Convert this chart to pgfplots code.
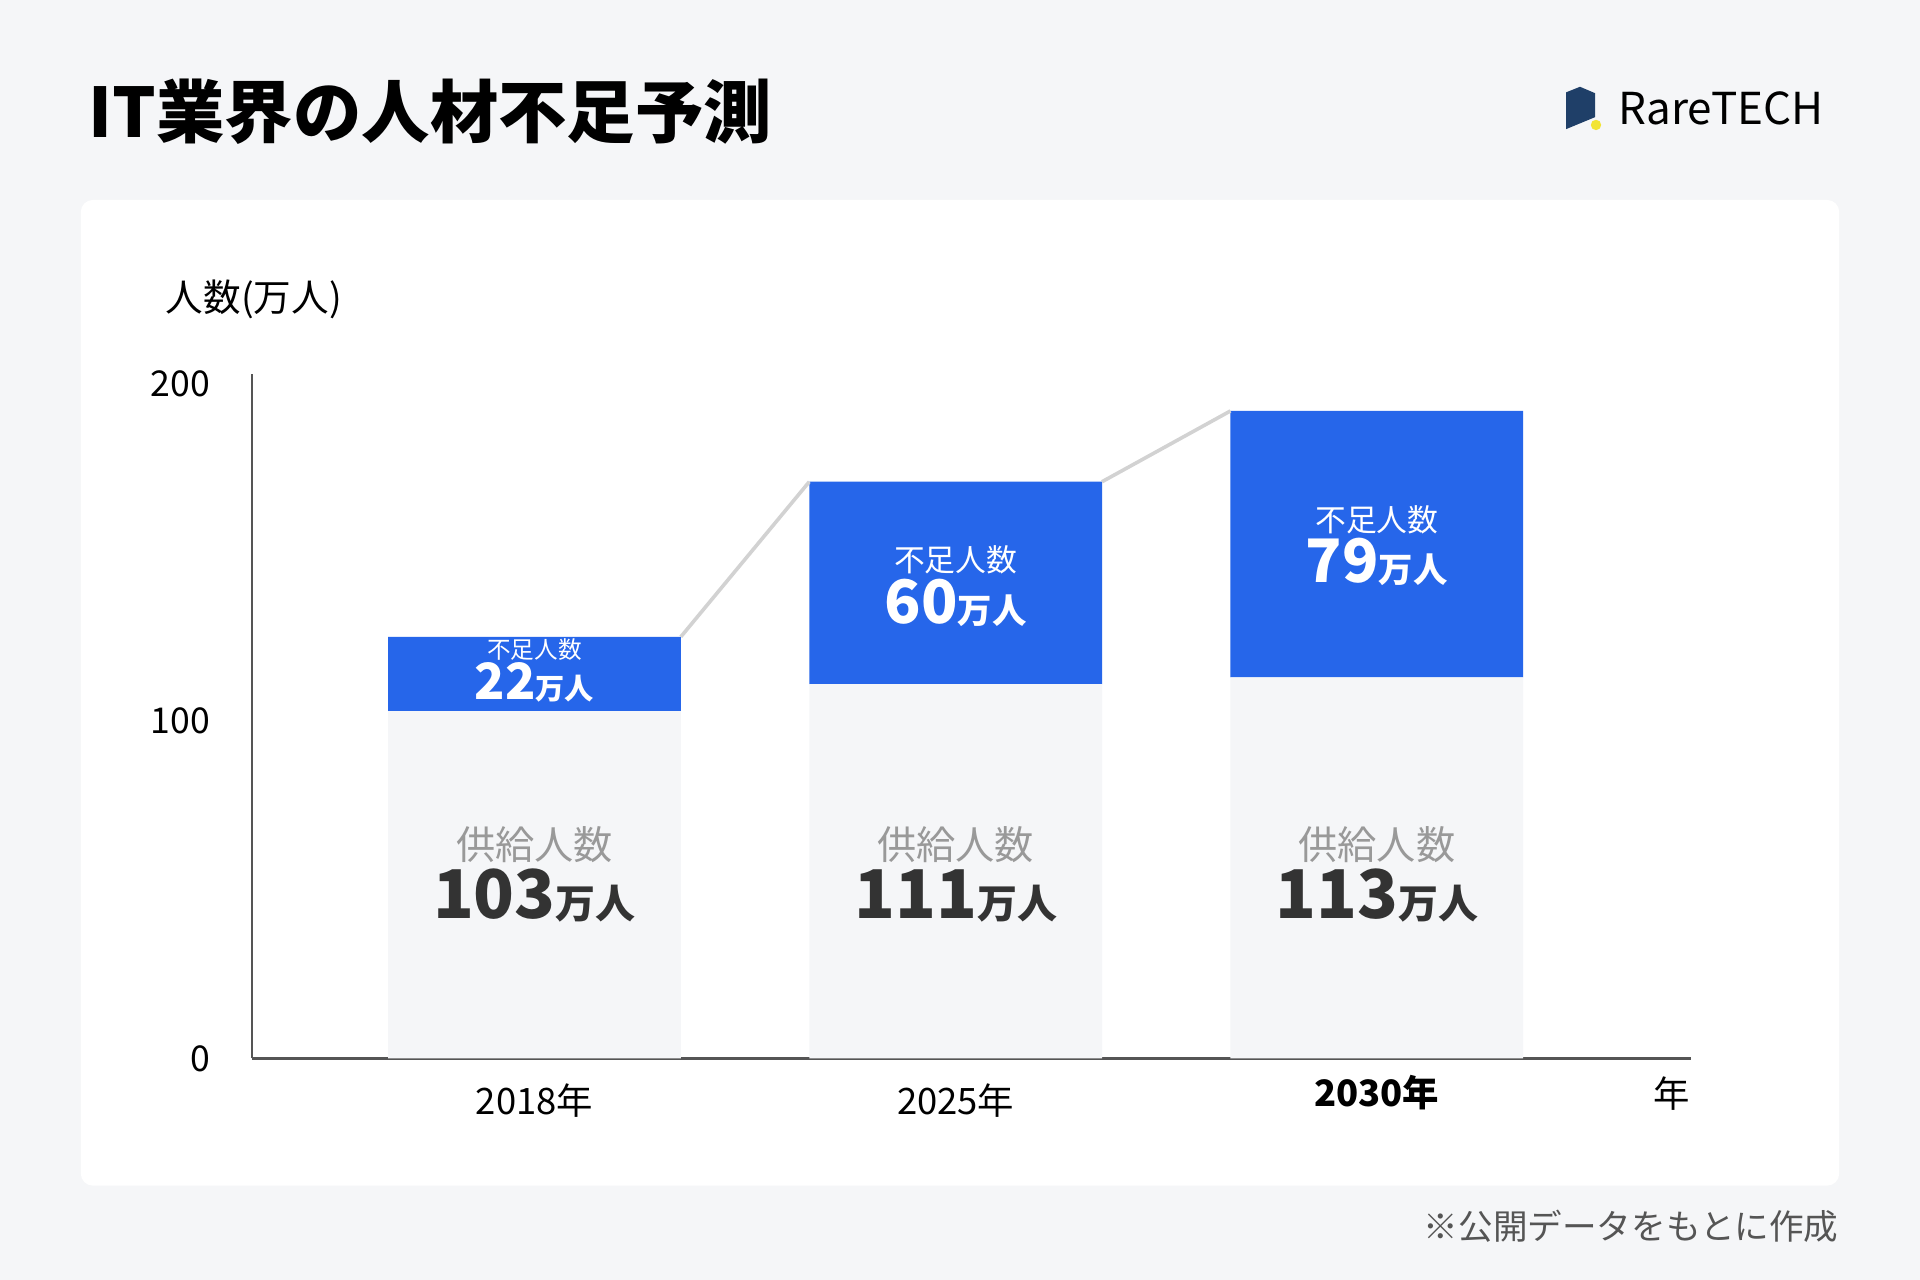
\documentclass[border=0pt]{standalone}
\usepackage{pgfplots}
\pgfplotsset{compat=1.18}
\usepackage{fontspec}
\setmainfont{Noto Sans CJK JP}

\definecolor{bg}{HTML}{F5F6F8}
\definecolor{barblue}{HTML}{2666EA}
\definecolor{supply}{HTML}{F5F6F8}
\definecolor{axisgray}{HTML}{555555}
\definecolor{linkgray}{HTML}{D2D2D2}
\definecolor{capgray}{HTML}{999999}
\definecolor{numdark}{HTML}{333333}
\definecolor{notegray}{HTML}{555555}
\definecolor{logoblue}{HTML}{1F3F68}
\definecolor{logoyellow}{HTML}{F2E434}

\newcommand{\fs}[1]{\fontsize{#1}{#1}\selectfont}

% supply / shortage per year (10k people)
\pgfplotsset{
  base/.style={
    scale only axis, width=359.7pt, height=171.12pt,
    xmin=-0.67, xmax=2.746, ymin=0, ymax=203,
    at={(63.06pt,55.41pt)}, anchor=south west,
    /pgf/number format/assume math mode=true,
  },
  lbl/.style={draw=none, point meta=explicit,
    every node near coord/.append style={anchor=center, inner sep=0pt}},
}

\begin{document}
\begin{tikzpicture}
\fill[bg] (0,0) rectangle (480pt,320pt);
\fill[white, rounded corners=3pt] (20.2pt,23.6pt) rectangle (459.8pt,270pt);
\node[anchor=base west, inner sep=0] at (22pt,285.6pt) {\fs{17.1pt}\bfseries IT業界の人材不足予測};
% logo
\fill[logoblue] (391.5pt,296.9pt) -- (395pt,298.3pt) -- (398.75pt,296.7pt) -- (398.75pt,290.7pt) -- (391.5pt,287.7pt) -- cycle;
\fill[logoyellow] (399pt,288.75pt) circle (1.3pt);
\node[anchor=west, inner sep=0] at (404.5pt,293pt) {\fs{11pt}RareTECH};
\node[anchor=base west, inner sep=0] at (41.3pt,242.1pt) {\fs{9.4pt}人数(万人)};
\node[anchor=east, inner sep=0, text=notegray] at (459.8pt,13.5pt) {\fs{8.65pt}※公開データをもとに作成};

\begin{axis}[base,
  ybar stacked, bar width=0.695,
  axis x line*=bottom, axis y line*=left,
  axis line style={axisgray, line width=0.6pt},
  major tick length=0pt,
  ytick={0,100,200},
  xtick={0,1,2},
  xticklabels={2018年,2025年,\raisebox{2.1pt}[\height][\depth]{\bfseries 2030年}},
  xticklabel style={font=\fs{9.1pt}, yshift=-2.8pt},
  yticklabel style={font=\fs{8.9pt}, xshift=-7pt},
  xlabel={年},
  xlabel style={at={(rel axis cs:1,0)}, anchor=north east, inner sep=0pt, yshift=-4.3pt, font=\fs{9.1pt}},
]
\addplot[fill=supply, draw=none] coordinates {(0,103) (1,111) (2,113)};
\addplot[fill=barblue, draw=none] coordinates {(0,22) (1,60) (2,79)};
\end{axis}

\begin{axis}[base, hide axis, clip=false]
\addplot[linkgray, line width=0.9pt] coordinates {(0.3475,125) (0.6525,171)};
\addplot[linkgray, line width=0.9pt] coordinates {(1.3475,171) (1.6525,192)};
% supply labels
\addplot[lbl, nodes near coords={\fs{9.8pt}供給人数},
  every node near coord/.append style={text=capgray}]
  coordinates {(0,63.5) [103] (1,63.5) [111] (2,63.5) [113]};
\addplot[lbl, nodes near coords={\fs{16.8pt}\bfseries\pgfmathprintnumber{\pgfplotspointmeta}\fs{10pt}万人},
  every node near coord/.append style={text=numdark}]
  coordinates {(0,48.3) [103] (1,48.3) [111] (2,48.3) [113]};
% shortage labels
\addplot[lbl, nodes near coords={\fs{5.9pt}不足人数},
  every node near coord/.append style={text=white}]
  coordinates {(0,121.3) [22]};
\addplot[lbl, nodes near coords={\fs{12.5pt}\bfseries\pgfmathprintnumber{\pgfplotspointmeta}\fs{7.3pt}万人},
  every node near coord/.append style={text=white}]
  coordinates {(0,111.5) [22]};
\addplot[lbl, nodes near coords={\fs{7.7pt}不足人数},
  every node near coord/.append style={text=white}]
  coordinates {(1,147.8) [60] (2,159.8) [79]};
\addplot[lbl, nodes near coords={\fs{15pt}\bfseries\pgfmathprintnumber{\pgfplotspointmeta}\fs{8.6pt}万人},
  every node near coord/.append style={text=white}]
  coordinates {(1,135.1) [60] (2,147.1) [79]};
\end{axis}
\end{tikzpicture}
\end{document}
